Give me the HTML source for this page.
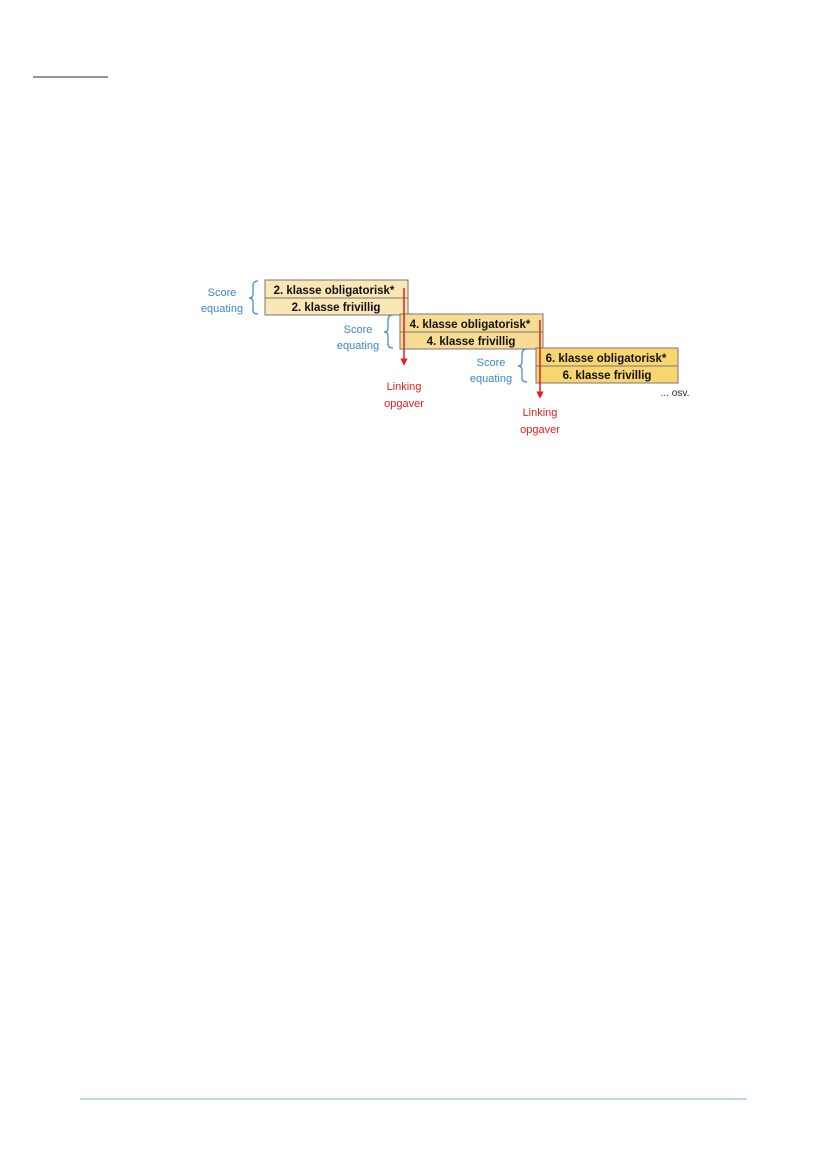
<!DOCTYPE html>
<html><head><style>
body{margin:0;background:#fff;}
svg{display:block}
</style></head><body>
<svg width="827" height="1169" viewBox="0 0 827 1169" xmlns="http://www.w3.org/2000/svg" font-family="Liberation Sans, sans-serif">
<defs><marker id="ah" markerWidth="5" markerHeight="5" refX="2.5" refY="2.5" orient="auto"><path d="M0,0 L5,2.5 L0,5z" fill="#e02020"/></marker></defs>
<line x1="33" y1="77" x2="108" y2="77" stroke="#555" stroke-width="1.3"/>
<line x1="80" y1="1099" x2="747" y2="1099" stroke="#9fd0e0" stroke-width="1.5"/>
<g stroke="#777" stroke-width="1">
<rect x="265" y="280" width="143" height="35" fill="#fbe6b5"/>
<line x1="265" y1="298" x2="408" y2="298"/>
<rect x="400" y="314" width="143" height="35" fill="#f9dc93"/>
<line x1="400" y1="332" x2="543" y2="332"/>
<rect x="536" y="348" width="142" height="35" fill="#f8d56e"/>
<line x1="536" y1="366" x2="678" y2="366"/>
</g>
<g font-weight="bold" font-size="11.5" text-anchor="middle" fill="#111">
<text x="334" y="294">2. klasse obligatorisk*</text>
<text x="336" y="311">2. klasse frivillig</text>
<text x="470" y="328">4. klasse obligatorisk*</text>
<text x="471" y="345">4. klasse frivillig</text>
<text x="606" y="362">6. klasse obligatorisk*</text>
<text x="607" y="379">6. klasse frivillig</text>
</g>
<g stroke="#e02020" stroke-width="1.5" fill="none">
<line x1="404" y1="288" x2="404" y2="362" marker-end="url(#ah)"/>
<line x1="540" y1="320" x2="540" y2="395" marker-end="url(#ah)"/>
</g>
<g fill="none" stroke="#3a86c8" stroke-width="1.2">
<path d="M258,281 Q253,281 253,286 L253,294 Q253,298 249,298 Q253,298 253,302 L253,310 Q253,314 258,314"/>
<path d="M393,315 Q388,315 388,320 L388,328 Q388,332 384,332 Q388,332 388,336 L388,344 Q388,348 393,348"/>
<path d="M527,349 Q522,349 522,354 L522,362 Q522,366 518,366 Q522,366 522,370 L522,378 Q522,382 527,382"/>
</g>
<g fill="#3a86c8" font-size="11" text-anchor="middle">
<text x="222" y="296">Score</text><text x="222" y="312">equating</text>
<text x="358" y="333">Score</text><text x="358" y="349">equating</text>
<text x="491" y="366">Score</text><text x="491" y="382">equating</text>
</g>
<g fill="#e02020" font-size="11" text-anchor="middle">
<text x="404" y="390">Linking</text><text x="404" y="407">opgaver</text>
<text x="540" y="416">Linking</text><text x="540" y="433">opgaver</text>
</g>
<text x="675" y="396" font-size="10" text-anchor="middle" fill="#222">... osv.</text>
</svg>
</body></html>
